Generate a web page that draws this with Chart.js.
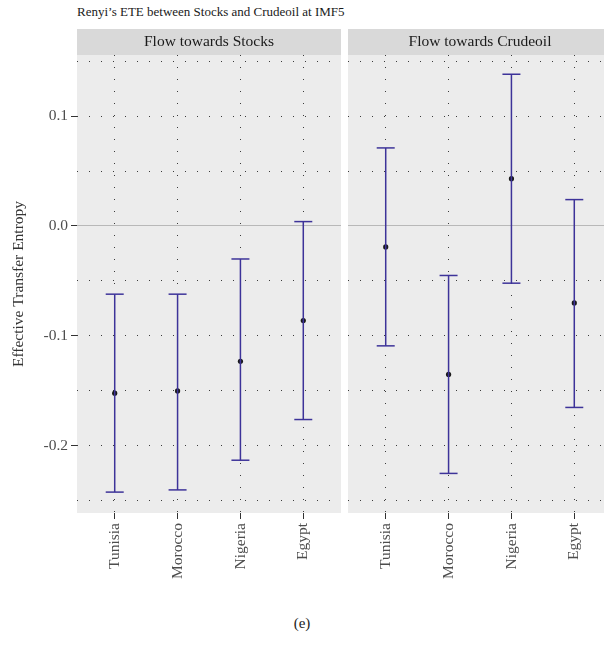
<!DOCTYPE html>
<html>
<head>
<meta charset="utf-8">
<script src="https://cdn.jsdelivr.net/npm/chart.js@4/dist/chart.umd.min.js"></script>
<style>
  body { margin: 0; background: #fff; width: 604px; height: 652px; position: relative; overflow: hidden; font-family: "Liberation Serif", serif; }
  #title { position: absolute; left: 77px; top: 4px; font-size: 13px; color: #1a1a1a; white-space: nowrap; }
  #cap { position: absolute; left: 0; width: 604px; top: 615px; text-align: center; font-size: 15px; color: #222; }
  canvas { position: absolute; top: 0; }
  #c1 { left: 0; }
  #c2 { left: 348px; }
</style>
</head>
<body>
<div id="title">Renyi’s ETE between Stocks and Crudeoil at IMF5</div>
<canvas id="c1" width="341" height="600"></canvas>
<canvas id="c2" width="264" height="600"></canvas>
<div id="cap">(e)</div>
<script>
// dane
const countries = ['Tunisia', 'Morocco', 'Nigeria', 'Egypt'];
const panels = ['Flow towards Stocks', 'Flow towards Crudeoil'];

const stocksEte   = [-0.152, -0.150, -0.123, -0.086];
const stocksLow   = [-0.242, -0.240, -0.213, -0.176];
const stocksHigh  = [-0.062, -0.062, -0.030, 0.004];

const crudeEte    = [-0.019, -0.135, 0.043, -0.070];
const crudeLow    = [-0.109, -0.225, -0.052, -0.165];
const crudeHigh   = [0.071, -0.045, 0.138, 0.024];

const yTicks = [-0.25, -0.2, -0.15, -0.1, -0.05, 0, 0.05, 0.1, 0.15];
const yMajor = [-0.2, -0.1, 0, 0.1];
const xTicks = [1, 2, 3, 4];

const barColor = '#3d3399';
const FONT = 'Liberation Serif';

// tlo panelu + pasek z naglowkiem
const panelBg = {
  id: 'panelBg',
  beforeDraw(chart, args, opts) {
    const a = chart.chartArea, ctx = chart.ctx;
    ctx.save();
    ctx.fillStyle = '#ececec';
    ctx.fillRect(a.left, a.top, a.right - a.left, a.bottom - a.top);
    ctx.fillStyle = '#d9d9d9';
    ctx.fillRect(a.left, a.top - 26, a.right - a.left, 26);
    ctx.fillStyle = '#1a1a1a';
    ctx.font = '15.5px "' + FONT + '"';
    ctx.textAlign = 'center';
    ctx.textBaseline = 'middle';
    ctx.fillText(opts.text, (a.left + a.right) / 2, a.top - 13);
    ctx.restore();
  }
};

function isMajor(v) {
  return yMajor.some(m => Math.abs(m - v) < 1e-9);
}

function makeData(ete, low, high) {
  const bars = [];
  const caps = [];
  const pts = [];
  for (let i = 0; i < countries.length; i++) {
    bars.push({x: i + 1, y: low[i]}, {x: i + 1, y: high[i]}, {x: i + 1, y: null});
    caps.push({x: i + 1, y: low[i]}, {x: i + 1, y: high[i]});
    pts.push({x: i + 1, y: ete[i]});
  }
  return {
    datasets: [
      { type: 'line', data: bars, borderColor: barColor, borderWidth: 1.5, pointRadius: 0, spanGaps: false, fill: false },
      { type: 'scatter', data: caps, pointStyle: 'line', pointRadius: 9, borderColor: barColor, borderWidth: 1.5 },
      { type: 'scatter', data: pts, pointRadius: 2.6, backgroundColor: '#1a1a1a', borderWidth: 0 }
    ]
  };
}

function makeChart(id, title, ete, low, high, withAxis) {
  return new Chart(document.getElementById(id), {
    type: 'scatter',
    data: makeData(ete, low, high),
    plugins: [panelBg],
    options: {
      responsive: false,
      animation: false,
      events: [],
      layout: { autoPadding: false, padding: { top: 55, right: 0, bottom: 0, left: 0 } },
      plugins: {
        legend: { display: false },
        tooltip: { enabled: false },
        panelBg: { text: title }
      },
      scales: {
        x: {
          type: 'linear',
          min: 0.4,
          max: 4.6,
          afterBuildTicks: s => { s.ticks = xTicks.map(v => ({ value: v })); },
          afterFit: s => { s.height = 87; s.paddingLeft = 0; s.paddingRight = 0; },
          border: { display: false, dash: [1, 11] },
          grid: { color: 'rgba(0,0,0,0.75)', lineWidth: 1, tickLength: 6, tickColor: '#333', tickWidth: 1 },
          ticks: {
            minRotation: 90, maxRotation: 90, autoSkip: false, padding: 4,
            color: '#4d4d4d', font: { family: FONT, size: 15.5 },
            callback: v => countries[Math.round(v) - 1]
          }
        },
        y: {
          type: 'linear',
          min: -0.261,
          max: 0.1555,
          afterBuildTicks: s => { s.ticks = yTicks.map(v => ({ value: v })); },
          afterFit: s => { s.width = withAxis ? 77 : 0; s.paddingTop = 0; s.paddingBottom = 0; },
          border: {
            display: false,
            dash: c => (c.tick && c.tick.value === 0) ? [] : [1, 11]
          },
          grid: {
            color: c => (c.tick && c.tick.value === 0) ? '#b8b8b8' : 'rgba(0,0,0,0.75)',
            lineWidth: 1,
            drawTicks: withAxis,
            tickLength: 6,
            tickWidth: 1,
            tickColor: c => (c.tick && isMajor(c.tick.value)) ? '#333' : 'rgba(0,0,0,0)'
          },
          title: {
            display: withAxis,
            text: 'Effective Transfer Entropy',
            color: '#333',
            font: { family: FONT, size: 15.5 },
            padding: { top: 10, bottom: 0 }
          },
          ticks: {
            display: withAxis,
            padding: 3,
            color: '#4d4d4d',
            font: { family: FONT, size: 15.5 },
            callback: v => isMajor(v) ? v.toFixed(1) : ''
          }
        }
      }
    }
  });
}

makeChart('c1', panels[0], stocksEte, stocksLow, stocksHigh, true);
makeChart('c2', panels[1], crudeEte, crudeLow, crudeHigh, false);
</script>
</body>
</html>
